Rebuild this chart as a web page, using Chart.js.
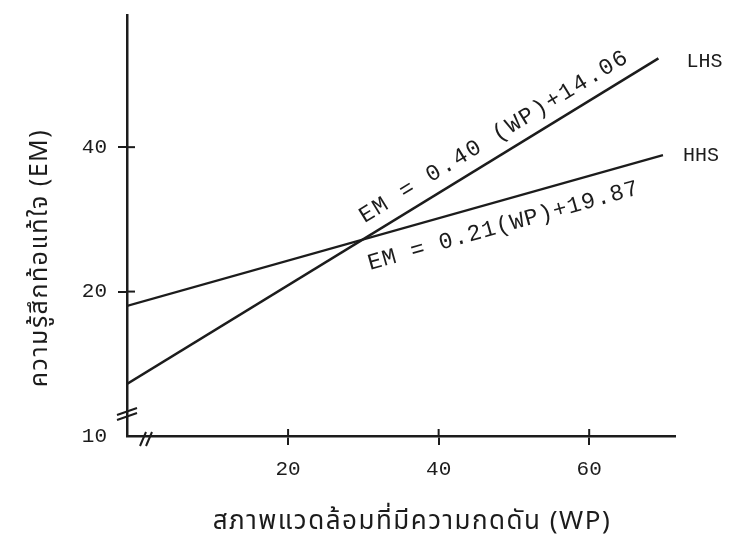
<!DOCTYPE html>
<html>
<head>
<meta charset="utf-8">
<script src="https://cdn.jsdelivr.net/npm/chart.js@4.4.0/dist/chart.umd.min.js"></script>
<style>
  html, body { margin: 0; padding: 0; background: #fff; }
</style>
</head>
<body>
<canvas id="emChart" width="734" height="548"></canvas>
<script>
// values
const seriesNames = ['LHS', 'HHS'];
const equations = ['EM = 0.40 (WP)+14.06', 'EM = 0.21(WP)+19.87'];
const wpLHS = [-1.4, 69.2];
const emLHS = [13.6, 52.3];
const wpHHS = [-1.4, 69.8];
const emHHS = [19.0, 38.9];
const xTicks = [20, 40, 60];
const yTicks = [10, 20, 40];
const xTitle = 'สภาพแวดล้อมที่มีความกดดัน (WP)';
const yTitle = 'ความรู้สึกท้อแท้ใจ (EM)';

const ink = '#1c1c1c';
const mono = "'Liberation Mono', 'DejaVu Sans Mono', monospace";
const thai = "'Noto Sans Thai', 'Noto Sans', 'DejaVu Sans', sans-serif";

// y axis is broken below 20: the 10-20 stretch is drawn at half the scale of 20-40
class BrokenScale extends Chart.LinearScale {
  static id = 'broken';
  static defaults = Chart.LinearScale.defaults;
  toU(v) { return v >= 20 ? v : 20 - (20 - v) * 2; }
  getPixelForValue(v) {
    const lo = this.toU(this.min), hi = this.toU(this.max);
    return this.bottom - (this.toU(v) - lo) / (hi - lo) * (this.bottom - this.top);
  }
  getValueForPixel(p) {
    const lo = this.toU(this.min), hi = this.toU(this.max);
    const u = lo + (this.bottom - p) / (this.bottom - this.top) * (hi - lo);
    return u >= 20 ? u : 20 - (20 - u) / 2;
  }
}
Chart.register(BrokenScale);

// break marks, inner tick halves, line labels, equations and axis titles
const annotations = {
  id: 'annotations',
  afterDraw(chart) {
    const { ctx, chartArea: area, scales } = chart;
    ctx.save();
    ctx.strokeStyle = ink;
    ctx.fillStyle = ink;
    ctx.lineWidth = 2;

    // tick marks cross the axes in the scan
    xTicks.forEach(v => {
      const px = scales.x.getPixelForValue(v);
      ctx.beginPath();
      ctx.moveTo(px, area.bottom);
      ctx.lineTo(px, area.bottom - 7);
      ctx.stroke();
    });
    yTicks.filter(v => v > 10).forEach(v => {
      const py = scales.y.getPixelForValue(v);
      ctx.beginPath();
      ctx.moveTo(area.left, py);
      ctx.lineTo(area.left + 8, py);
      ctx.stroke();
    });

    // "//" on the y axis
    [0, 5].forEach(d => {
      ctx.beginPath();
      ctx.moveTo(area.left - 10, area.bottom - 21 + d);
      ctx.lineTo(area.left + 10, area.bottom - 28 + d);
      ctx.stroke();
    });
    // "//" on the x axis
    [0, 6].forEach(d => {
      ctx.beginPath();
      ctx.moveTo(area.left + 13 + d, area.bottom + 10);
      ctx.lineTo(area.left + 19 + d, area.bottom - 4);
      ctx.stroke();
    });

    // series names and equations along each line
    const place = [
      { frac: 0.71, off: -19, dx: 28, dy: 3, spacing: '1.8px' },
      { frac: 0.69, off: 25, dx: 20, dy: 1, spacing: '1px' }
    ];
    chart.data.datasets.forEach((ds, i) => {
      const pts = chart.getDatasetMeta(i).data;
      const a = pts[0], b = pts[pts.length - 1];
      const ang = Math.atan2(b.y - a.y, b.x - a.x);
      const p = place[i];

      ctx.font = '20px ' + mono;
      ctx.textAlign = 'left';
      ctx.textBaseline = 'middle';
      ctx.letterSpacing = '0px';
      ctx.fillText(seriesNames[i], b.x + p.dx, b.y + p.dy);

      const cx = a.x + (b.x - a.x) * p.frac - Math.sin(ang) * p.off;
      const cy = a.y + (b.y - a.y) * p.frac + Math.cos(ang) * p.off;
      ctx.save();
      ctx.translate(cx, cy);
      ctx.rotate(ang);
      ctx.font = '23px ' + mono;
      ctx.letterSpacing = p.spacing;
      ctx.textAlign = 'center';
      ctx.fillText(equations[i], 0, 0);
      ctx.restore();
    });

    // axis titles
    ctx.textAlign = 'center';
    ctx.textBaseline = 'middle';
    ctx.font = '26px ' + thai;
    ctx.letterSpacing = '1.5px';
    ctx.fillText(xTitle, 412, 524);
    ctx.save();
    ctx.translate(42, 258);
    ctx.rotate(-Math.PI / 2);
    ctx.font = '25px ' + thai;
    ctx.letterSpacing = '1.5px';
    ctx.fillText(yTitle, 0, 0);
    ctx.restore();
    ctx.restore();
  }
};

const ctx = document.getElementById('emChart');
new Chart(ctx, {
  type: 'line',
  data: {
    datasets: [
      {
        label: seriesNames[0],
        data: wpLHS.map((x, i) => ({ x: x, y: emLHS[i] })),
        borderColor: ink,
        borderWidth: 2.5,
        pointRadius: 0,
        tension: 0
      },
      {
        label: seriesNames[1],
        data: wpHHS.map((x, i) => ({ x: x, y: emHHS[i] })),
        borderColor: ink,
        borderWidth: 2.2,
        pointRadius: 0,
        tension: 0
      }
    ]
  },
  options: {
    responsive: false,
    animation: false,
    layout: { padding: { top: 15, right: 59, left: 0, bottom: 0 } },
    plugins: { legend: { display: false }, tooltip: { enabled: false } },
    scales: {
      x: {
        type: 'linear',
        min: -1.4,
        max: 71.4,
        afterBuildTicks: s => { s.ticks = xTicks.map(v => ({ value: v })); },
        afterFit: s => { s.height = 112; s.paddingLeft = 0; s.paddingRight = 0; },
        border: { color: ink, width: 2.5 },
        grid: { drawOnChartArea: false, tickLength: 9, color: ink, lineWidth: 2 },
        ticks: { color: ink, font: { family: mono, size: 21 }, padding: 12, maxRotation: 0 }
      },
      y: {
        type: 'broken',
        min: 10,
        max: 58.3,
        afterBuildTicks: s => { s.ticks = yTicks.map(v => ({ value: v })); },
        afterFit: s => { s.width = 127; s.paddingTop = 0; s.paddingBottom = 0; },
        border: { color: ink, width: 2.5 },
        grid: {
          drawOnChartArea: false,
          tickLength: 9,
          lineWidth: 2,
          tickColor: c => (c.tick && c.tick.value === 10 ? 'rgba(0,0,0,0)' : ink)
        },
        ticks: { color: ink, font: { family: mono, size: 21 }, padding: 11 }
      }
    }
  },
  plugins: [annotations]
});
</script>
</body>
</html>
